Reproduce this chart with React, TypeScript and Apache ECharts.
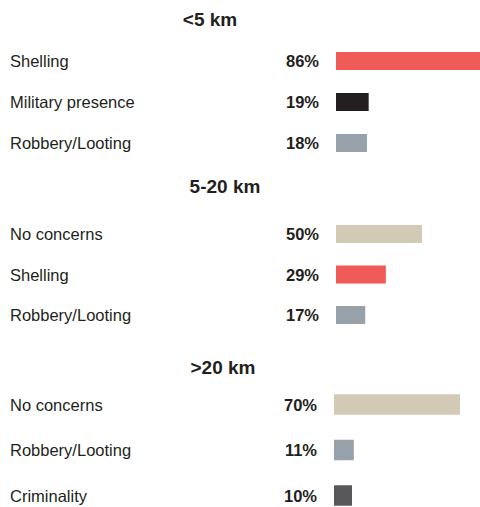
import React, { useEffect, useRef } from "react";
import * as echarts from "echarts";

const sectionTitles = ["<5 km", "5-20 km", ">20 km"];

const nearCategories = ["Shelling", "Military presence", "Robbery/Looting"];
const nearValues = [86, 19, 18];

const midCategories = ["No concerns", "Shelling", "Robbery/Looting"];
const midValues = [50, 29, 17];

const farCategories = ["No concerns", "Robbery/Looting", "Criminality"];
const farValues = [70, 11, 10];

const concernColors: Record<string, string> = {
  Shelling: "#F15B57",
  "Military presence": "#231F20",
  "Robbery/Looting": "#97A1A9",
  "No concerns": "#D3CAB6",
  Criminality: "#58585A",
};

const FONT = '"Liberation Sans", Arial, sans-serif';

const sections = [
  { cats: nearCategories, vals: nearValues },
  { cats: midCategories, vals: midValues },
  { cats: farCategories, vals: farValues },
];

const gridLayout = [
  { left: 336, top: 40.5, height: 123, width: 172, barWidth: 18, titleY: 19, titleX: 210 },
  { left: 336, top: 213.75, height: 121.5, width: 172, barWidth: 18, titleY: 186, titleX: 225 },
  { left: 334, top: 381.75, height: 136.5, width: 180, barWidth: 20.5, titleY: 367, titleX: 223 },
];

export default function App() {
  const ref = useRef<HTMLDivElement>(null);
  useEffect(() => {
    document.body.style.margin = "0";
    if (!ref.current) return;
    const chart = echarts.init(ref.current, null, { renderer: "svg" });
    const option: any = {
      animation: false,
      backgroundColor: "#ffffff",
      grid: gridLayout.map((g) => ({
        left: g.left,
        top: g.top,
        width: g.width,
        height: g.height,
        containLabel: false,
        outerBoundsMode: "none",
      })),
      xAxis: gridLayout.map((g, i) => ({
        type: "value",
        gridIndex: i,
        min: 0,
        max: 100,
        show: false,
      })),
      yAxis: sections.map((s, i) => ({
        type: "category",
        gridIndex: i,
        data: s.cats,
        inverse: true,
        axisLine: { show: false },
        axisTick: { show: false },
        splitLine: { show: false },
        axisLabel: {
          align: "left",
          margin: gridLayout[i].left - 10,
          fontFamily: FONT,
          fontSize: 16.5,
          color: "#231F20",
          padding: [0, 0, 5, 0],
        },
      })),
      series: sections.map((s, i) => ({
        type: "bar",
        xAxisIndex: i,
        yAxisIndex: i,
        barWidth: gridLayout[i].barWidth,
        data: s.vals.map((v, j) => ({
          value: v,
          itemStyle: { color: concernColors[s.cats[j]] },
        })),
        label: {
          show: true,
          position: "left",
          distance: 17,
          formatter: "{c}%",
          fontFamily: FONT,
          fontWeight: "bold",
          fontSize: 16.5,
          color: "#231F20",
        },
      })),
      graphic: sectionTitles.map((t, i) => ({
        type: "text",
        x: gridLayout[i].titleX,
        y: gridLayout[i].titleY,
        style: {
          text: t,
          align: "center",
          verticalAlign: "middle",
          fontFamily: FONT,
          fontWeight: "bold",
          fontSize: 19,
          fill: "#231F20",
        },
      })),
    };
    chart.setOption(option);
    return () => chart.dispose();
  }, []);
  return <div ref={ref} style={{ width: 480, height: 507 }} />;
}
